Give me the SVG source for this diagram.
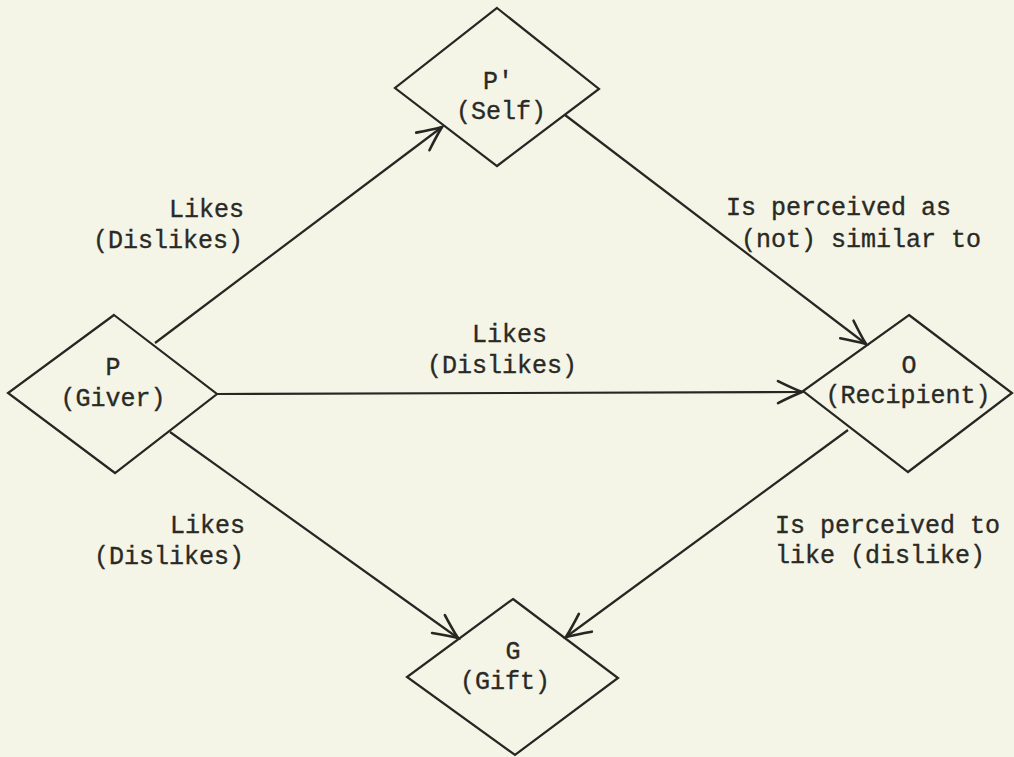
<svg xmlns="http://www.w3.org/2000/svg" width="1014" height="757" viewBox="0 0 1014 757">
<style>
.bg{fill:#f4f4e7}
.node{fill:none;stroke:#262622;stroke-width:2.2;stroke-linejoin:miter}
.edge{fill:none;stroke:#262622;stroke-width:2.2}
text{font-family:"Liberation Mono","Courier New",monospace;font-size:25px;fill:#2a2a25;stroke:#2a2a25;stroke-width:0.35}
.c{text-anchor:middle}
</style>
<defs>
<marker id="arr" markerUnits="userSpaceOnUse" markerWidth="40" markerHeight="40" refX="0" refY="0" viewBox="-30 -20 32 40" orient="auto">
<path d="M -24 -11 Q -10 -4 0 0 Q -10 4 -24 11" fill="none" stroke="#262622" stroke-width="2.6" stroke-linecap="round"/>
</marker>
</defs>
<rect class="bg" x="0" y="0" width="1014" height="757"/>
<g id="connectors">
<line class="edge" x1="155" y1="343" x2="442" y2="127" marker-end="url(#arr)"/>
<line class="edge" x1="565" y1="115" x2="866" y2="344" marker-end="url(#arr)"/>
<line class="edge" x1="217" y1="394" x2="802" y2="392" marker-end="url(#arr)"/>
<line class="edge" x1="170" y1="432" x2="458" y2="638" marker-end="url(#arr)"/>
<line class="edge" x1="848" y1="430" x2="566" y2="637" marker-end="url(#arr)"/>
</g>
<g id="label-p-self">
<text x="169" y="217">Likes</text>
<text x="93" y="248">(Dislikes)</text>
</g>
<g id="label-self-o">
<text x="726" y="215">Is perceived as</text>
<text x="741" y="247">(not) similar to</text>
</g>
<g id="label-p-o">
<text x="472" y="342">Likes</text>
<text x="427" y="373">(Dislikes)</text>
</g>
<g id="label-p-g">
<text x="170" y="533">Likes</text>
<text x="94" y="564">(Dislikes)</text>
</g>
<g id="label-o-g">
<text x="775" y="533">Is perceived to</text>
<text x="775" y="563">like (dislike)</text>
</g>
<g id="node-self">
<polygon class="node" points="497,8 599,89 497,166 395,88"/>
<text class="c" x="498" y="89">P'</text>
<text class="c" x="501" y="119">(Self)</text>
</g>
<g id="node-giver">
<polygon class="node" points="114,315 217,394 115,473 8,393"/>
<text class="c" x="113" y="375">P</text>
<text class="c" x="113" y="406">(Giver)</text>
</g>
<g id="node-recipient">
<polygon class="node" points="909,315 1012,393 908,472 803,391"/>
<text class="c" x="909" y="373">O</text>
<text class="c" x="908" y="403">(Recipient)</text>
</g>
<g id="node-gift">
<polygon class="node" points="513,599 618,678 515,755 407,677"/>
<text class="c" x="513" y="659">G</text>
<text class="c" x="505" y="689">(Gift)</text>
</g>
</svg>
